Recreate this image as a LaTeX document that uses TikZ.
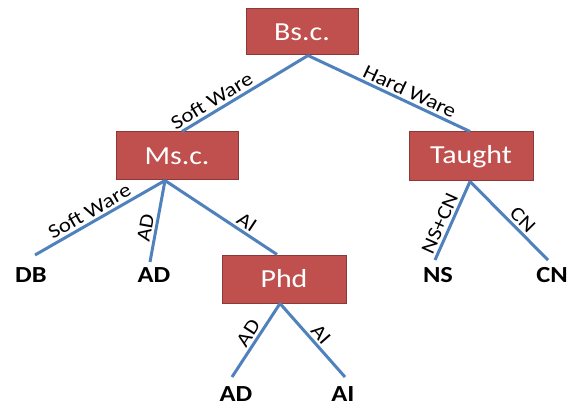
\documentclass[tikz,border=0pt]{standalone}
\usepackage{fontspec}
\setmainfont[FakeStretch=1.15]{Carlito}
\usetikzlibrary{calc}
\definecolor{boxred}{HTML}{C0504D}
\definecolor{boxedge}{HTML}{8C3836}
\definecolor{linkblue}{HTML}{4F81BD}
\begin{document}
\begin{tikzpicture}[x=1pt,y=-1pt,
  box/.style={draw=boxedge, line width=1pt, fill=boxred, text=white, inner sep=0pt,
    font=\fontsize{26}{26}\selectfont},
  leaf/.style={inner sep=0pt, font=\bfseries\fontsize{23}{23}\selectfont},
  link/.style={draw=linkblue, line width=3pt},
  elabel/.style={sloped, above, inner sep=2.5pt, font=\fontsize{20}{20}\selectfont}]
\useasboundingbox (0,0) rectangle (570,406);
% boxes
\node[box, minimum width=112pt, minimum height=46pt] (bsc) at (302,32) {Bs.c.};
\node[box, minimum width=122pt, minimum height=48pt] (msc) at (177,156) {Ms.c.};
\node[box, minimum width=124pt, minimum height=49pt] (taught) at (471,156.5) {Taught};
\node[box, minimum width=124pt, minimum height=48pt] (phd) at (284,279) {Phd};
% leaves
\node[leaf] (db) at (31,275) {DB};
\node[leaf] (ad1) at (154,275) {AD};
\node[leaf] (ns) at (438,275) {NS};
\node[leaf] (cn) at (552,275) {CN};
\node[leaf] (ad2) at (236,394) {AD};
\node[leaf] (ai) at (343,394) {AI};
% attachment points
\coordinate (bscB) at ($(bsc.south)+(6,0)$);
\coordinate (mscT) at ($(msc.north)+(5,0)$);
\coordinate (mscB) at ($(msc.south)+(-12,0)$);
\coordinate (taughtT) at ($(taught.north)+(-1,0)$);
\coordinate (taughtB) at ($(taught.south)+(-1,0)$);
\coordinate (phdT) at ($(phd.north)+(-7,0)$);
\coordinate (phdB) at ($(phd.south)+(-4,0)$);
\coordinate (dbT) at ($(db.center)+(4,-20)$);
\coordinate (ad1T) at ($(ad1.center)+(-4,-13)$);
\coordinate (nsT) at ($(ns.center)+(-3,-15)$);
\coordinate (cnT) at ($(cn.center)+(-4,-15)$);
\coordinate (ad2T) at ($(ad2.center)+(-4,-17)$);
\coordinate (aiT) at ($(ai.center)+(2,-17)$);
% connectors
\draw[link] (bscB) -- node[elabel, pos=0.72] {Soft Ware} (mscT);
\draw[link] (bscB) -- node[elabel, pos=0.60] {Hard Ware} (taughtT);
\draw[link] (mscB) -- node[elabel, pos=0.54] {Soft Ware} (dbT);
\draw[link] (mscB) -- node[elabel, pos=0.61] {AD} (ad1T);
\draw[link] (mscB) -- node[elabel, pos=0.68] {AI} (phdT);
\draw[link] (taughtB) -- node[elabel, pos=0.59] {NS+CN} (nsT);
\draw[link] (taughtB) -- node[elabel, pos=0.58] {CN} (cnT);
\draw[link] (phdB) -- node[elabel, pos=0.48] {AD} (ad2T);
\draw[link] (phdB) -- node[elabel, pos=0.51] {AI} (aiT);
\end{tikzpicture}
\end{document}
